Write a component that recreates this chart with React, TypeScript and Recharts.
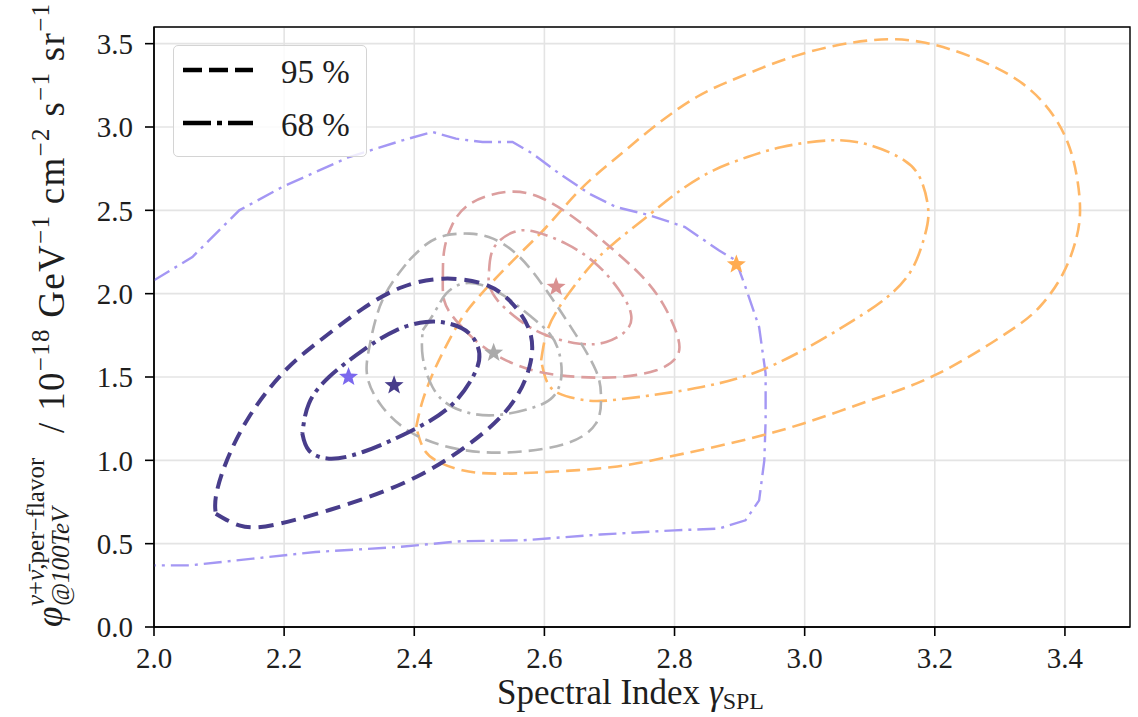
import React from 'react';
import { ComposedChart, Line, Scatter, XAxis, YAxis, CartesianGrid, ReferenceArea, Cell } from 'recharts';

type Pt = [number, number];

const SERIF = '"Liberation Serif", "DejaVu Serif", serif';

const xTicks = [2.0, 2.2, 2.4, 2.6, 2.8, 3.0, 3.2, 3.4];
const yTicks = [0, 0.5, 1.0, 1.5, 2.0, 2.5, 3.0, 3.5];

// contour traces, [gamma, phi]
const lilac68: Pt[] = [
  [2.0, 2.08], [2.059, 2.22], [2.131, 2.5], [2.197, 2.64], [2.3, 2.82], [2.382, 2.92], [2.428, 2.97],
  [2.464, 2.93], [2.505, 2.91], [2.551, 2.91], [2.582, 2.84], [2.623, 2.72], [2.669, 2.6], [2.71, 2.52],
  [2.762, 2.47], [2.816, 2.4], [2.868, 2.26], [2.894, 2.2], [2.909, 2.04], [2.93, 1.8], [2.94, 1.52],
  [2.94, 1.24], [2.938, 1.0], [2.93, 0.76], [2.909, 0.64], [2.868, 0.59], [2.8, 0.58], [2.686, 0.555],
  [2.567, 0.52], [2.472, 0.515], [2.376, 0.48], [2.248, 0.45], [2.152, 0.41], [2.056, 0.37], [2.0, 0.37],
];

const orange95: Pt[] = [
  [2.403, 1.2], [2.413, 1.36], [2.433, 1.56], [2.459, 1.76], [2.49, 1.94], [2.552, 2.2], [2.603, 2.4],
  [2.654, 2.62], [2.706, 2.8], [2.768, 3.0], [2.834, 3.18], [2.9, 3.3], [2.997, 3.44], [3.101, 3.52],
  [3.179, 3.51], [3.257, 3.42], [3.335, 3.26], [3.387, 3.04], [3.413, 2.8], [3.423, 2.54], [3.418, 2.34],
  [3.397, 2.12], [3.361, 1.92], [3.309, 1.76], [3.205, 1.52], [3.101, 1.36], [2.997, 1.22], [2.894, 1.11],
  [2.79, 1.02], [2.705, 0.96], [2.603, 0.93], [2.526, 0.92], [2.474, 0.94], [2.433, 1.0], [2.413, 1.08],
  [2.403, 1.2],
];

const orange68: Pt[] = [
  [2.595, 1.6], [2.603, 1.76], [2.623, 1.92], [2.665, 2.14], [2.706, 2.3], [2.757, 2.46], [2.809, 2.62],
  [2.86, 2.74], [2.912, 2.82], [2.965, 2.88], [3.039, 2.92], [3.101, 2.89], [3.153, 2.8], [3.179, 2.68],
  [3.19, 2.5], [3.184, 2.34], [3.164, 2.14], [3.127, 1.98], [3.075, 1.84], [2.997, 1.66], [2.919, 1.52],
  [2.842, 1.44], [2.764, 1.39], [2.701, 1.36], [2.664, 1.36], [2.623, 1.4], [2.603, 1.48], [2.595, 1.6],
];

const rose95: Pt[] = [
  [2.444, 2.1], [2.446, 2.26], [2.458, 2.41], [2.486, 2.54], [2.541, 2.61], [2.592, 2.58], [2.644, 2.46],
  [2.695, 2.3], [2.746, 2.12], [2.782, 1.94], [2.805, 1.74], [2.803, 1.62], [2.772, 1.54], [2.715, 1.5],
  [2.654, 1.5], [2.592, 1.53], [2.541, 1.6], [2.5, 1.7], [2.464, 1.84], [2.446, 1.96], [2.444, 2.1],
];

const rose68: Pt[] = [
  [2.515, 2.14], [2.523, 2.28], [2.553, 2.37], [2.587, 2.37], [2.633, 2.3], [2.679, 2.18], [2.715, 2.02],
  [2.733, 1.88], [2.726, 1.78], [2.695, 1.71], [2.654, 1.7], [2.603, 1.75], [2.562, 1.84], [2.528, 1.96],
  [2.515, 2.06], [2.515, 2.14],
];

const grey95: Pt[] = [
  [2.392, 2.2], [2.42, 2.3], [2.449, 2.35], [2.485, 2.36], [2.521, 2.33], [2.562, 2.22], [2.603, 2.02],
  [2.644, 1.78], [2.679, 1.54], [2.687, 1.38], [2.679, 1.22], [2.633, 1.1], [2.556, 1.05], [2.479, 1.06],
  [2.403, 1.15], [2.351, 1.32], [2.328, 1.5], [2.331, 1.68], [2.351, 1.96], [2.392, 2.2],
];

const grey68: Pt[] = [
  [2.413, 1.78], [2.433, 1.9], [2.449, 2.0], [2.474, 2.06], [2.505, 2.05], [2.541, 1.98], [2.577, 1.87],
  [2.608, 1.76], [2.623, 1.64], [2.626, 1.5], [2.613, 1.38], [2.577, 1.31], [2.515, 1.27], [2.459, 1.32],
  [2.428, 1.44], [2.413, 1.62], [2.413, 1.78],
];

const navy95: Pt[] = [
  [2.095, 0.68], [2.131, 0.61], [2.187, 0.615], [2.3, 0.74], [2.403, 0.9], [2.485, 1.1], [2.546, 1.32],
  [2.577, 1.56], [2.577, 1.78], [2.546, 1.96], [2.505, 2.06], [2.444, 2.09], [2.382, 2.04], [2.321, 1.91],
  [2.249, 1.7], [2.197, 1.52], [2.146, 1.26], [2.11, 0.98], [2.095, 0.78], [2.095, 0.68],
];

const navy68: Pt[] = [
  [2.228, 1.16], [2.238, 1.06], [2.269, 1.01], [2.321, 1.05], [2.392, 1.17], [2.454, 1.32], [2.49, 1.5],
  [2.5, 1.64], [2.485, 1.76], [2.454, 1.82], [2.418, 1.83], [2.372, 1.78], [2.321, 1.66], [2.269, 1.5],
  [2.238, 1.34], [2.228, 1.16],
];

// best-fit points
const bestFit: Pt[] = [[2.299, 1.5], [2.895, 2.175], [2.618, 2.04], [2.522, 1.645], [2.369, 1.45]];
const bestFitColors = ['#7b68ee', '#ffac52', '#d99090', '#aaaaaa', '#483d8b'];

const DASH = '14 7';
const DASHDOT = '18 6 3 6';

const curves = [
  { key: 'lilac68', pts: lilac68, color: '#a497f4', width: 2.4, dash: DASHDOT, type: 'linear' },
  { key: 'orange95', pts: orange95, color: '#ffb766', width: 2.6, dash: DASH, type: 'natural' },
  { key: 'orange68', pts: orange68, color: '#ffb766', width: 2.6, dash: DASHDOT, type: 'natural' },
  { key: 'rose95', pts: rose95, color: '#dc9e9e', width: 2.6, dash: DASH, type: 'natural' },
  { key: 'rose68', pts: rose68, color: '#dc9e9e', width: 2.6, dash: DASHDOT, type: 'natural' },
  { key: 'grey95', pts: grey95, color: '#b3b3b3', width: 2.6, dash: DASH, type: 'natural' },
  { key: 'grey68', pts: grey68, color: '#b3b3b3', width: 2.6, dash: DASHDOT, type: 'natural' },
  { key: 'navy95', pts: navy95, color: '#483d8b', width: 4, dash: '15 8', type: 'natural' },
  { key: 'navy68', pts: navy68, color: '#483d8b', width: 4, dash: '21 6 4 6', type: 'natural' },
];

const toXY = (pts: Pt[]) => pts.map(([x, y]) => ({ x, y }));

const Star = (props: any) => {
  const { cx, cy, fill } = props;
  if (cx == null || cy == null) return null;
  const R = 10;
  const r = 4.2;
  let d = '';
  for (let i = 0; i < 10; i++) {
    const rad = i % 2 === 0 ? R : r;
    const a = -Math.PI / 2 + (i * Math.PI) / 5;
    d += `${i === 0 ? 'M' : 'L'}${cx + rad * Math.cos(a)},${cy + rad * Math.sin(a)}`;
  }
  return <path d={d + 'Z'} fill={fill} />;
};

const YAxisTitle = () => (
  <g transform="rotate(-90)" fontFamily={SERIF} fill="#1e1e1e">
    <text x={-627} y={62} fontSize={37} fontStyle="italic">φ</text>
    <text x={-606} y={44} fontSize={25}>
      <tspan fontStyle="italic">ν</tspan>+<tspan fontStyle="italic">ν̄</tspan>,per−flavor
    </text>
    <text x={-606} y={69} fontSize={25} fontStyle="italic">@100TeV</text>
    <text x={-433} y={64} fontSize={37} letterSpacing={1.3}>
      / 10<tspan dy={-15} fontSize={25}>−18</tspan>
      <tspan dy={15}> GeV</tspan><tspan dy={-15} fontSize={25}>−1</tspan>
      <tspan dy={15}> cm</tspan><tspan dy={-15} fontSize={25}>−2</tspan>
      <tspan dy={15}> s</tspan><tspan dy={-15} fontSize={25}>−1</tspan>
      <tspan dy={15}> sr</tspan><tspan dy={-15} fontSize={25}>−1</tspan>
    </text>
  </g>
);

const XAxisTitle = () => (
  <text x={497} y={704} fontSize={35} fontFamily={SERIF} fill="#1e1e1e">
    Spectral Index <tspan fontStyle="italic">γ</tspan>
    <tspan fontSize={24} dy={5}>SPL</tspan>
  </text>
);

const tickStyle = { fontSize: 29, fontFamily: SERIF, fill: '#1e1e1e' };

const LegendBox = () => (
  <div
    style={{
      position: 'absolute',
      left: 173,
      top: 45,
      width: 194,
      height: 112,
      boxSizing: 'border-box',
      border: '1.5px solid #d4d4d4',
      borderRadius: 5,
      background: 'rgba(255,255,255,0.82)',
    }}
  >
    <svg width={194} height={112} style={{ position: 'absolute', left: -1.5, top: -1.5 }}>
      <line x1={10} y1={25} x2={80} y2={25} stroke="#000" strokeWidth={4.5} strokeDasharray="19 7" />
      <line x1={10} y1={78} x2={80} y2={78} stroke="#000" strokeWidth={4.5} strokeDasharray="28 6 5 6" />
      <text x={108} y={38} fontSize={33} fontFamily={SERIF} fill="#1e1e1e">95 %</text>
      <text x={108} y={91} fontSize={33} fontFamily={SERIF} fill="#1e1e1e">68 %</text>
    </svg>
  </div>
);

export default function App() {
  return (
    <div style={{ position: 'relative', width: 1138, height: 717, background: '#fff' }}>
      <style>{'body{margin:0;}'}</style>
      <ComposedChart width={1138} height={717} margin={{ top: 27, right: 8, left: 0, bottom: 0 }}>
        <CartesianGrid stroke="#e4e4e4" strokeWidth={1.6} />
        <XAxis
          type="number"
          dataKey="x"
          domain={[2.0, 3.5]}
          allowDataOverflow
          ticks={xTicks}
          tickFormatter={(v: number) => v.toFixed(1)}
          tick={tickStyle}
          tickSize={9}
          tickMargin={11}
          height={90}
          axisLine={{ stroke: '#000', strokeWidth: 1.4 }}
          tickLine={{ stroke: '#000', strokeWidth: 1.6 }}
          label={<XAxisTitle />}
        />
        <YAxis
          type="number"
          dataKey="y"
          domain={[0, 3.6]}
          allowDataOverflow
          ticks={yTicks}
          tickFormatter={(v: number) => v.toFixed(1)}
          tick={tickStyle}
          tickSize={9}
          tickMargin={12}
          width={154}
          axisLine={{ stroke: '#000', strokeWidth: 1.4 }}
          tickLine={{ stroke: '#000', strokeWidth: 1.6 }}
          label={<YAxisTitle />}
        />
        {curves.map((c) => (
          <Line
            key={c.key}
            data={toXY(c.pts)}
            dataKey="y"
            type={c.type as any}
            stroke={c.color}
            strokeWidth={c.width}
            strokeDasharray={c.dash}
            dot={false}
            activeDot={false}
            isAnimationActive={false}
          />
        ))}
        <Scatter data={toXY(bestFit)} dataKey="y" shape={<Star />} isAnimationActive={false}>
          {bestFit.map((_, i) => (
            <Cell key={i} fill={bestFitColors[i]} />
          ))}
        </Scatter>
        <ReferenceArea x1={2.0} x2={3.5} y1={0} y2={3.6} fill="none" stroke="#000" strokeWidth={1.4} />
      </ComposedChart>
      <LegendBox />
    </div>
  );
}
